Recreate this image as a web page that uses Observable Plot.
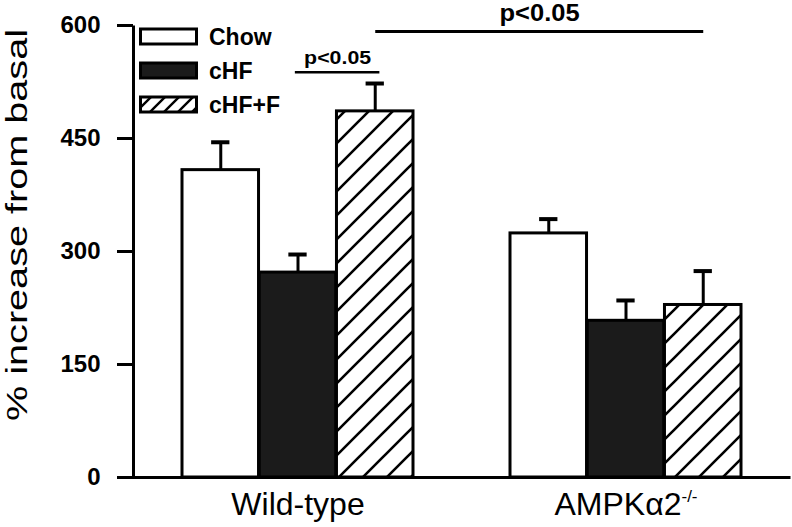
<!DOCTYPE html>
<html><head><meta charset="utf-8">
<script src="https://cdn.jsdelivr.net/npm/d3@7"></script>
<script src="https://cdn.jsdelivr.net/npm/@observablehq/plot@0.6"></script>
<style>
html,body{margin:0;padding:0;background:#fff;}
#wrap{position:relative;width:792px;height:527px;font-family:"Liberation Sans",Arial,Helvetica,sans-serif;}
.leg{position:absolute;left:139px;height:20px;display:flex;align-items:center;font-weight:bold;font-size:23px;color:#000;}
.leg svg{display:block;margin-right:10px;}
</style></head>
<body>
<svg width="0" height="0" style="position:absolute">
<defs>
<pattern id="hatch" patternUnits="userSpaceOnUse" width="24" height="24">
<rect width="24" height="24" fill="white"/>
<path d="M-6,6 L6,-6 M0,24 L24,0 M18,30 L30,18" stroke="black" stroke-width="2.6"/>
</pattern>
<pattern id="hatchSmall" patternUnits="userSpaceOnUse" width="14" height="14">
<rect width="14" height="14" fill="white"/>
<path d="M-4,4 L4,-4 M0,14 L14,0 M10,18 L18,10" stroke="black" stroke-width="2.4"/>
</pattern>
</defs></svg>
<div id="wrap"></div>
<script>
// ---- data ----
const groups = ["Wild-type", "AMPKα2-/-"];
const treatments = ["Chow", "cHF", "cHF+F"];
const wildTypeMeans = [408, 272, 486];
const wildTypeSEM = [37, 24, 37];
const ampkMeans = [324, 208, 229];
const ampkSEM = [19, 27, 45];
const yTicks = [0, 150, 300, 450, 600];
const yLabel = "% increase from basal";
const sigLabel = "p<0.05";
const shortBracketY = 538;
const longBracketY = 592;

// ---- layout ----
const W = 792, H = 527;
const mL = 133, mR = 2, mT = 25, mB = 50;
const padInner = 0.295, padOuter = 0.147;
const fills = ["white", "#1b1b1b", "url(#hatch)"];
const legendFills = ["white", "#1b1b1b", "url(#hatchSmall)"];

const means = [wildTypeMeans, ampkMeans];
const sems = [wildTypeSEM, ampkSEM];
const rows = groups.flatMap((g, gi) => treatments.map((t, ti) => ({
  group: g, treatment: t, ti, mean: means[gi][ti], sem: sems[gi][ti]
})));

const xs = Plot.scale({x: {type: "band", domain: groups, range: [mL, W - mR], paddingInner: padInner, paddingOuter: padOuter}});
const bw = xs.bandwidth, step = xs.step;
const third = bw / 3;
const capHalf = 9.5;

const marks = [];
treatments.forEach((t, i) => {
  const sub = rows.filter(d => d.treatment === t);
  marks.push(Plot.barY(sub, {x: "group", y: "mean", fill: fills[i], stroke: "black", strokeWidth: 3,
    insetLeft: i * third, insetRight: (2 - i) * third}));
});
treatments.forEach((t, i) => {
  const sub = rows.filter(d => d.treatment === t);
  marks.push(Plot.ruleX(sub, {x: "group", y1: "mean", y2: d => d.mean + d.sem, dx: (i - 1) * third, stroke: "black", strokeWidth: 3}));
  marks.push(Plot.tickY(sub, {x: "group", y: d => d.mean + d.sem, stroke: "black", strokeWidth: 4,
    insetLeft: i * third + third / 2 - capHalf, insetRight: (2 - i) * third + third / 2 - capHalf}));
});
// axes lines (bottom + left) via frame
const fw = W - mL - mR, fh = H - mT - mB;
marks.push(Plot.frame({stroke: "black", strokeWidth: 3, strokeDasharray: `0 ${fw + fh} ${fw + fh + 2}`}));
// significance brackets
marks.push(Plot.tickY([{group: groups[0], y: shortBracketY}], {x: "group", y: "y", stroke: "black", strokeWidth: 2.5,
  insetLeft: third * 1.5 - 3, insetRight: third / 2 - 5}));
marks.push(Plot.text([{group: groups[0], y: shortBracketY, label: sigLabel}], {x: "group", y: "y", text: "label",
  dx: third / 2 + 1, dy: -14, fontSize: 19, fontWeight: "bold", lineAnchor: "middle"}));
marks.push(Plot.link([{g1: groups[0], g2: groups[1], y: longBracketY}], {x1: "g1", x2: "g2", y1: "y", y2: "y",
  dx: third, stroke: "black", strokeWidth: 3}));
marks.push(Plot.text([{group: groups[0], y: longBracketY, label: sigLabel}], {x: "group", y: "y", text: "label",
  dx: step / 2 + third, dy: -18, fontSize: 23, fontWeight: "bold", lineAnchor: "middle"}));
// y label (placed precisely afterwards)
marks.push(Plot.text([yLabel], {frameAnchor: "left", text: d => d, rotate: -90, fontSize: 29, lineAnchor: "middle"}));
marks.push(Plot.axisY({ticks: yTicks, tickSize: 16, tickPadding: 17, fontSize: 24, strokeWidth: 3, label: null, tickFormat: d => String(d)}));
marks.push(Plot.axisX({tickSize: 0, tickPadding: 15, fontSize: 32, label: null}));

const chart = Plot.plot({
  width: W, height: H,
  marginLeft: mL, marginRight: mR, marginTop: mT, marginBottom: mB,
  style: {fontFamily: '"Liberation Sans", Arial, Helvetica, sans-serif', color: "black", background: "white", overflow: "visible"},
  x: {type: "band", domain: groups, paddingInner: padInner, paddingOuter: padOuter, axis: null},
  y: {domain: [0, 600], axis: null},
  marks
});

// post-processing of text details
chart.querySelectorAll('g[aria-label="y-axis tick label"] text, g[aria-label="y-axis tick label"]').forEach(e => e.setAttribute("font-weight", "bold"));
chart.querySelectorAll("text").forEach(t => {
  if (t.textContent === yLabel) {
    const g = t.parentNode;
    if (g && g.removeAttribute) g.removeAttribute("transform");
    ["x", "y", "dx", "dy"].forEach(a => t.removeAttribute(a));
    t.setAttribute("transform", "translate(27,225) rotate(-90)");
    t.setAttribute("text-anchor", "middle");
    t.setAttribute("textLength", 392);
    t.setAttribute("lengthAdjust", "spacingAndGlyphs");
  } else if (t.textContent === sigLabel) {
    const fsz = t.getAttribute("font-size") || (t.parentNode.getAttribute && t.parentNode.getAttribute("font-size"));
    t.setAttribute("textLength", fsz == "23" ? 80 : 67);
    t.setAttribute("lengthAdjust", "spacingAndGlyphs");
  } else if (t.textContent === groups[1]) {
    t.textContent = "";
    const a = document.createElementNS("http://www.w3.org/2000/svg", "tspan");
    a.textContent = "AMPKα2";
    const b = document.createElementNS("http://www.w3.org/2000/svg", "tspan");
    b.textContent = "-/-";
    b.setAttribute("font-size", "17");
    b.setAttribute("dy", "-13");
    t.appendChild(a); t.appendChild(b);
  }
});

const wrap = document.getElementById("wrap");
wrap.appendChild(chart);

// legend (overlaid inside the plot area, top-left)
const legendTops = [27, 61, 95];
treatments.forEach((t, i) => {
  const row = document.createElement("div");
  row.className = "leg";
  row.style.top = legendTops[i] + "px";
  row.innerHTML = `<svg width="60" height="20"><rect x="1.5" y="2" width="56" height="15" fill="${legendFills[i]}" stroke="black" stroke-width="3"/></svg><span>${t}</span>`;
  wrap.appendChild(row);
});
</script>
</body></html>
